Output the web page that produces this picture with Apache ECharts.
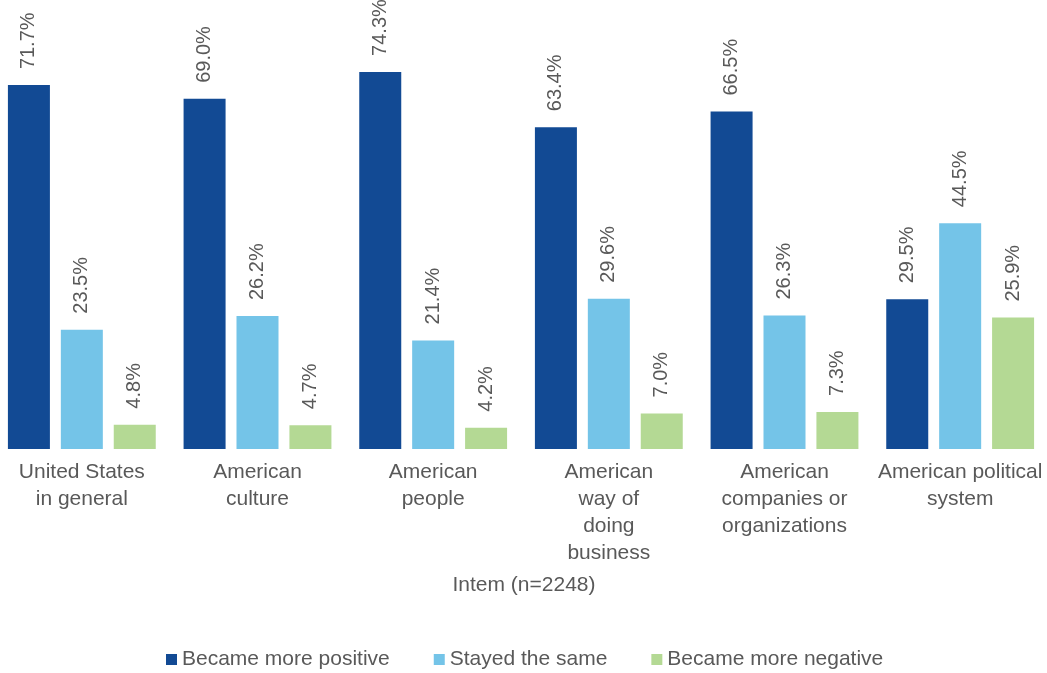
<!DOCTYPE html>
<html>
<head>
<meta charset="utf-8">
<script src="https://cdn.jsdelivr.net/npm/echarts@6/dist/echarts.min.js"></script>
<style>
html,body{margin:0;padding:0;background:#fff;overflow:hidden;}
#chart{width:1054px;height:673px;margin-left:-6px;}
</style>
</head>
<body>
<div id="chart"></div>
<script>
var categories = [
  "United States\nin general",
  "American\nculture",
  "American\npeople",
  "American\nway of\ndoing\nbusiness",
  "American\ncompanies or\norganizations",
  "American political\nsystem"
];
var seriesNames = ["Became more positive", "Stayed the same", "Became more negative"];
var positive = [71.7, 69.0, 74.3, 63.4, 66.5, 29.5];
var same = [23.5, 26.2, 21.4, 29.6, 26.3, 44.5];
var negative = [4.8, 4.7, 4.2, 7.0, 7.3, 25.9];
var colors = ["#124A94", "#74C4E8", "#B4D994"];
var axisTitle = "Intem (n=2248)";

var textColor = "#595959";
var font = "Liberation Sans, Arial, sans-serif";

function mkSeries(name, data, color) {
  return {
    name: name,
    type: "bar",
    data: data,
    barWidth: 42,
    barGap: "26%",
    itemStyle: { color: color },
    label: {
      show: true,
      position: "top",
      rotate: 90,
      align: "left",
      verticalAlign: "middle",
      distance: 16,
      color: textColor,
      fontFamily: font,
      fontSize: 20,
      formatter: function (p) { return p.value.toFixed(1) + "%"; }
    }
  };
}

var chart = echarts.init(document.getElementById("chart"), null, { renderer: "canvas" });
chart.setOption({
  animation: false,
  color: colors,
  grid: { left: 0, right: 0, top: 43, bottom: 224, containLabel: false },
  legend: {
    data: seriesNames,
    bottom: -2,
    left: 167,
    itemWidth: 11,
    itemHeight: 11,
    itemGap: 44,
    icon: "rect",
    textStyle: { color: textColor, fontFamily: font, fontSize: 21 }
  },
  xAxis: {
    type: "category",
    data: categories,
    axisLine: { show: false },
    axisTick: { show: false },
    axisLabel: {
      interval: 0,
      color: textColor,
      fontFamily: font,
      fontSize: 21,
      lineHeight: 27,
      margin: 10
    },
    name: axisTitle,
    nameLocation: "middle",
    nameGap: 126,
    nameTextStyle: { color: textColor, fontFamily: font, fontSize: 21, padding: [0, 0, 0, 6] }
  },
  yAxis: {
    type: "value",
    min: 0,
    max: 80,
    show: false,
    splitLine: { show: false }
  },
  series: [
    mkSeries(seriesNames[0], positive, colors[0]),
    mkSeries(seriesNames[1], same, colors[1]),
    mkSeries(seriesNames[2], negative, colors[2])
  ]
});
</script>
</body>
</html>
